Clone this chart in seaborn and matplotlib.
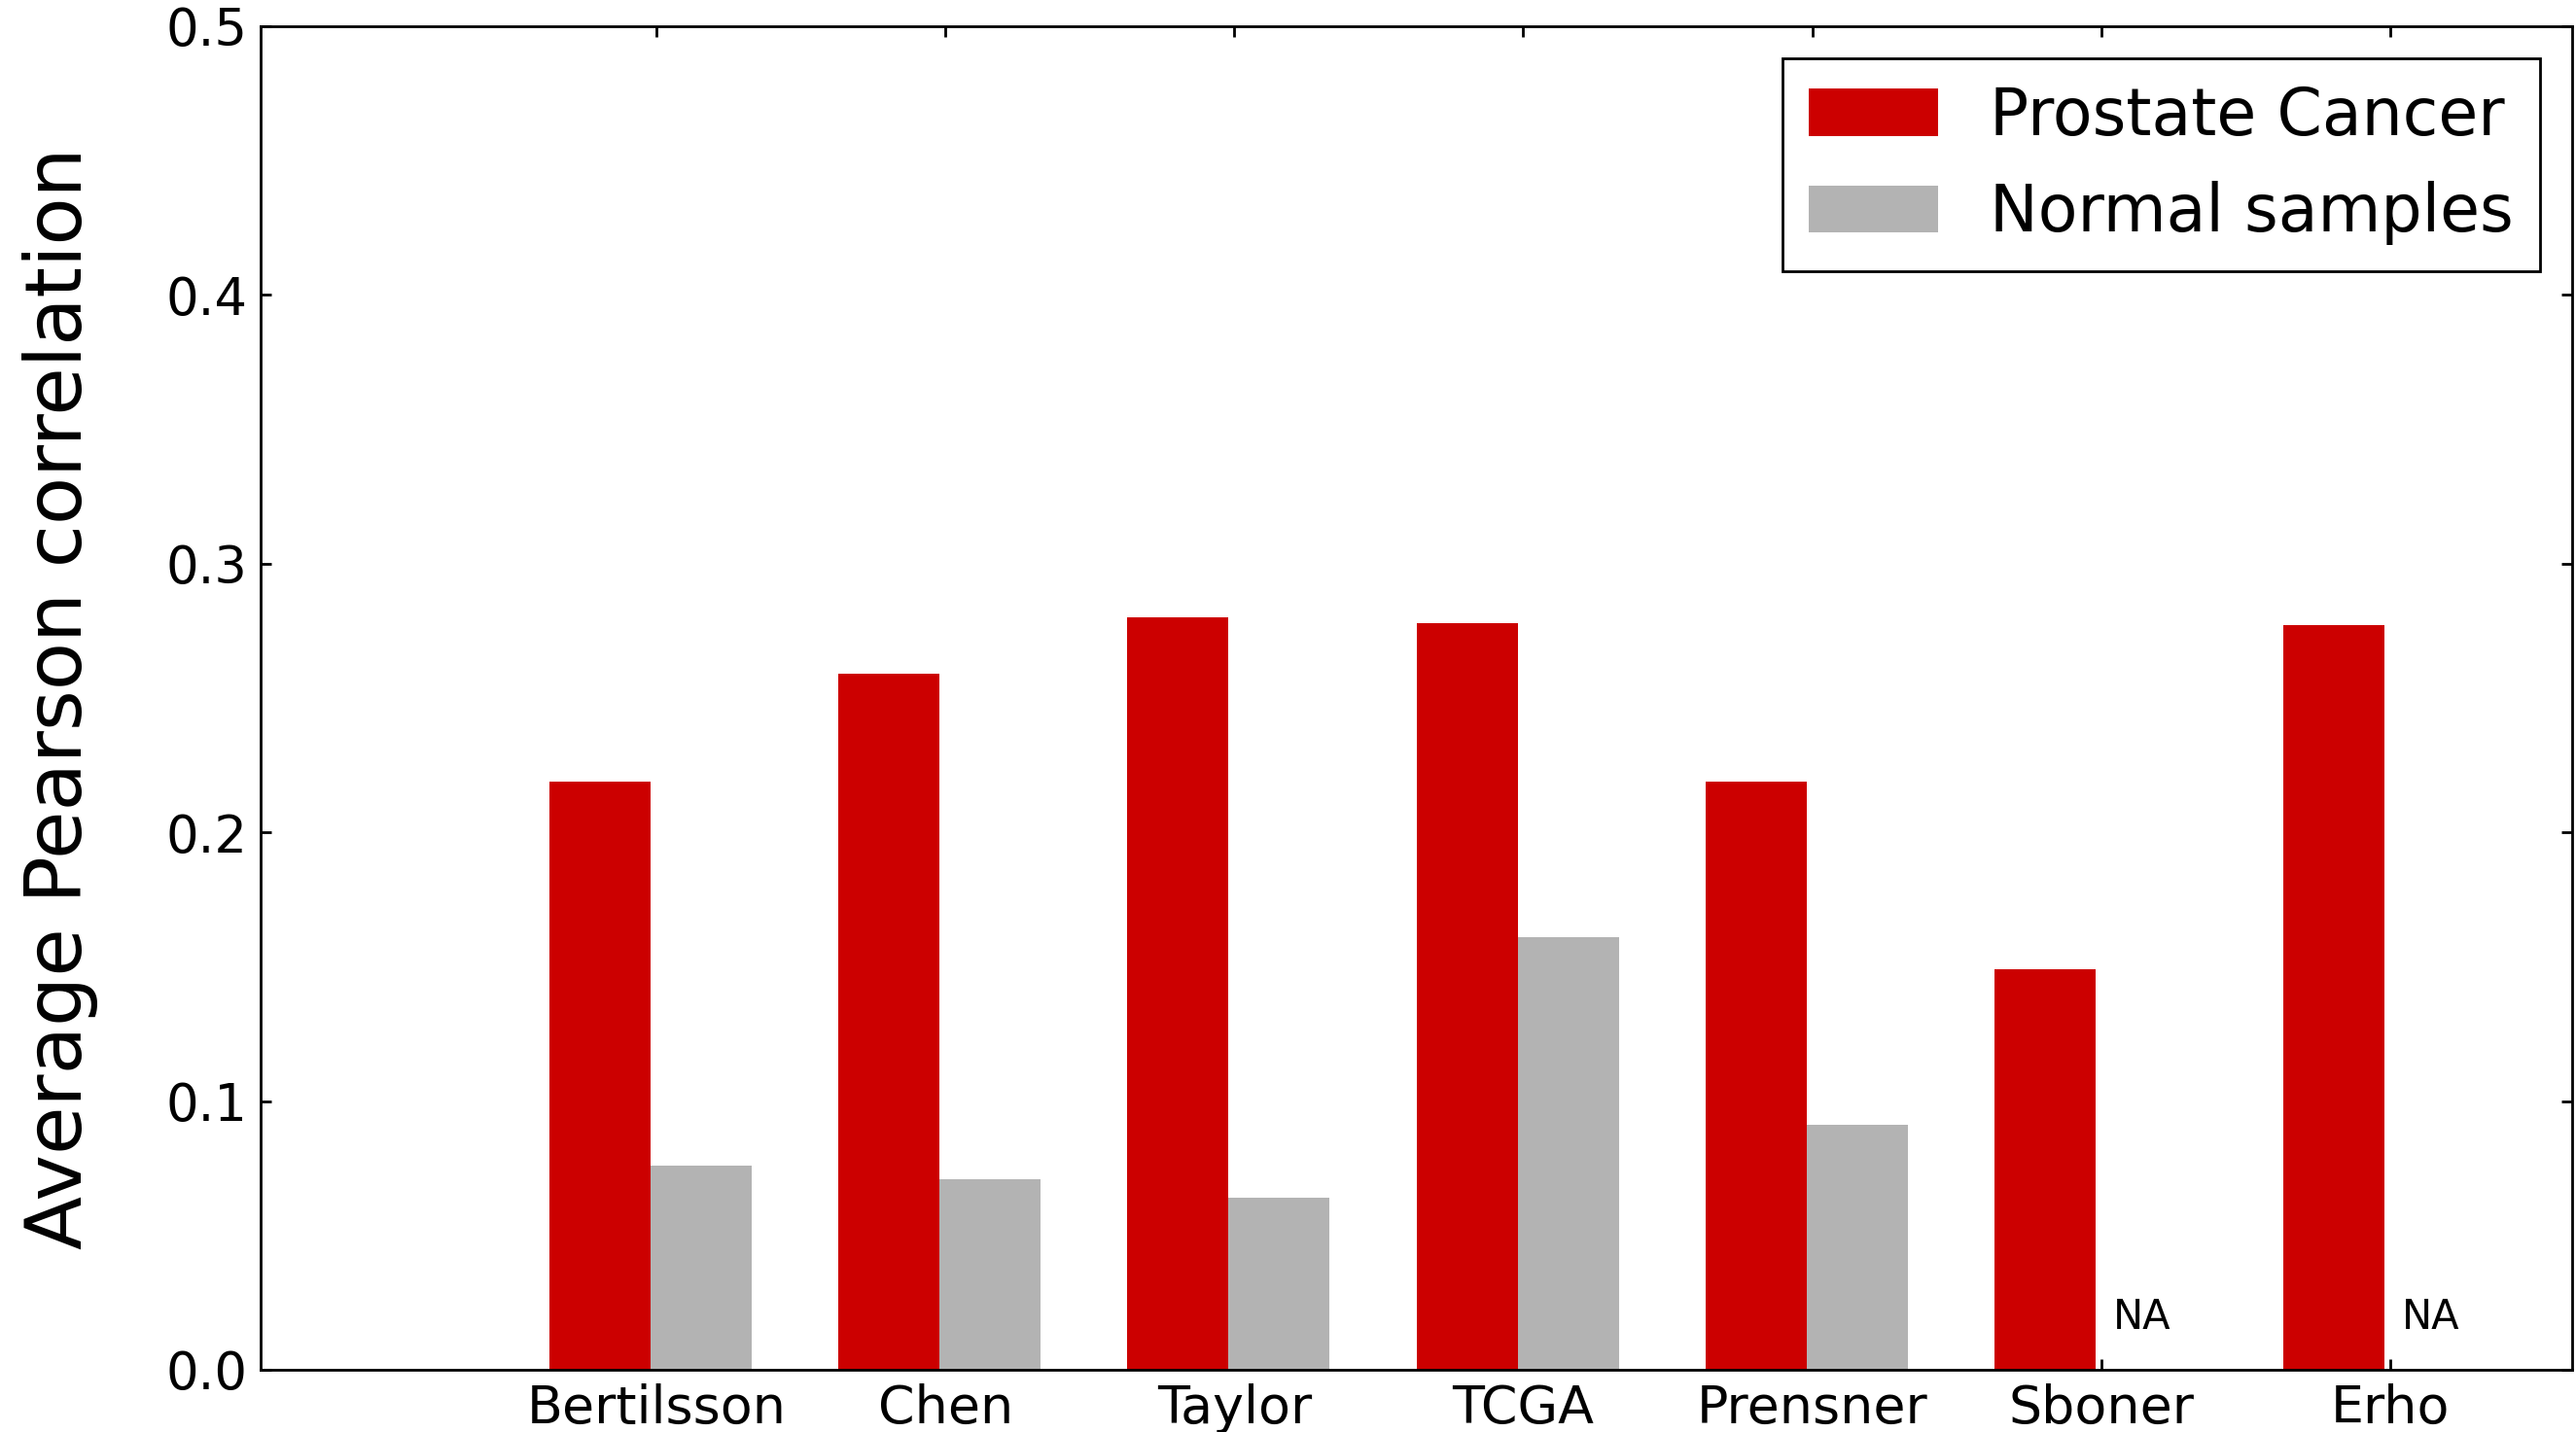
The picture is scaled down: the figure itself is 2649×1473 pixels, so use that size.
import numpy as np
import pandas as pd
import matplotlib
matplotlib.use("Agg")
import matplotlib.pyplot as plt
import seaborn as sns
from matplotlib.patches import Patch

# ---- data ----
datasets = ["Bertilsson", "Chen", "Taylor", "TCGA", "Prensner", "Sboner", "Erho"]
cancer = [0.219, 0.259, 0.280, 0.278, 0.219, 0.149, 0.277]
normal = [0.076, 0.071, 0.064, 0.161, 0.091, np.nan, np.nan]
groups = ["Prostate Cancer", "Normal samples"]
colors = ["#cc0000", "#b3b3b3"]
yticks = [0.0, 0.1, 0.2, 0.3, 0.4, 0.5]
ylabel = "Average Pearson correlation"
na_label = "NA"

sns.set_style("white")
plt.rcParams["font.family"] = ["DejaVu Sans"]
plt.rcParams["text.color"] = "black"
plt.rcParams["axes.labelcolor"] = "black"
plt.rcParams["xtick.color"] = "black"
plt.rcParams["ytick.color"] = "black"

df = pd.DataFrame({
    "dataset": datasets * 2,
    "group": [groups[0]] * len(datasets) + [groups[1]] * len(datasets),
    "value": cancer + normal,
})

fig, ax = plt.subplots(figsize=(2649 / 200, 1473 / 200), dpi=200)
fig.subplots_adjust(left=0.1012, right=0.9985, top=0.9817, bottom=0.0435)

sns.barplot(data=df, x="dataset", y="value", hue="group", order=datasets,
            hue_order=groups, palette=colors, width=0.7, saturation=1,
            errorbar=None, linewidth=0, ax=ax, legend=False)

for i, v in enumerate(normal):
    if np.isnan(v):
        ax.text(i + 0.06, 0.015, na_label, fontsize=15, ha="left",
                va="baseline", color="black")

ax.set_xlim(-1.35, 6.65)
ax.set_xticks(np.arange(len(datasets)) + 0.02)
ax.set_xticklabels(datasets)
ax.set_ylim(0, 0.5)
ax.set_yticks(yticks)
ax.set_yticklabels([f"{t:.1f}" for t in yticks])
ax.set_xlabel("")
ax.set_ylabel(ylabel, fontsize=29, labelpad=25, color="black")

for s in ax.spines.values():
    s.set_visible(True)
    s.set_color("black")
    s.set_linewidth(1.0)

ax.tick_params(axis="both", which="major", direction="in", length=4, width=1,
               top=True, right=True, bottom=True, left=True,
               labelsize=19, colors="black", labelcolor="black", pad=5)
ax.tick_params(axis="x", labelsize=19.4)

handles = [Patch(facecolor=c, edgecolor="none", label=g) for c, g in zip(colors, groups)]
leg = ax.legend(handles=handles, loc="upper right", fontsize=24, fancybox=False,
                framealpha=1, edgecolor="black", borderaxespad=0.5,
                handlelength=2.0, handleheight=0.75, labelcolor="black")
leg.get_frame().set_linewidth(1.0)

fig.savefig("out.png", dpi=200)
